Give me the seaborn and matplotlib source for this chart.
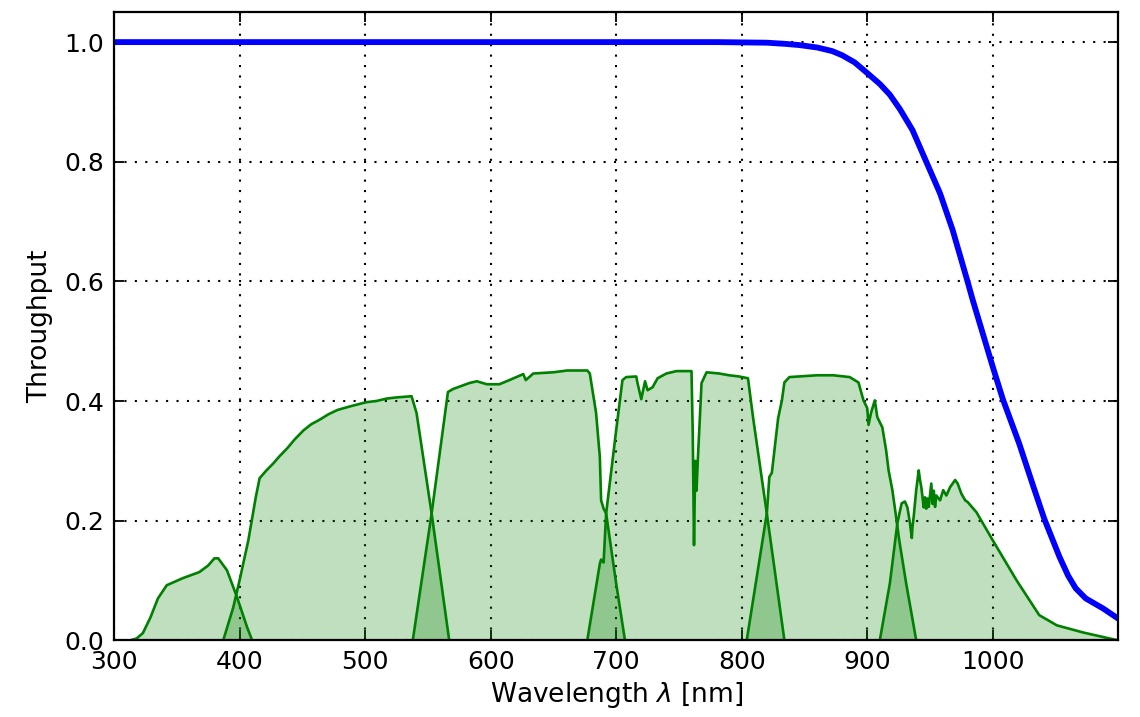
import matplotlib
matplotlib.use("Agg")
import matplotlib.pyplot as plt
import seaborn as sns

# Instrument throughput (blue) versus wavelength
inst_wl = [300, 400, 500, 600, 700, 780, 800, 820, 835, 846, 860, 872, 880,
           890, 899, 910, 918, 926, 936, 947, 958, 968, 980, 984, 992, 1000,
           1008, 1021, 1032, 1041, 1053, 1060, 1066, 1074, 1088, 1100]
inst_tp = [1.0, 1.0, 1.0, 1.0, 1.0, 1.0, 0.9995, 0.999, 0.997, 0.995, 0.991,
           0.985, 0.978, 0.966, 0.950, 0.930, 0.912, 0.888, 0.853, 0.80,
           0.747, 0.686, 0.599, 0.569, 0.513, 0.457, 0.403, 0.329, 0.259,
           0.203, 0.140, 0.108, 0.087, 0.070, 0.053, 0.036]

# Filter band throughputs (green)
u_wl = [313, 318, 323, 329, 335, 342, 355, 368, 375, 380, 383, 390, 398, 406,
        410]
u_tp = [0.0, 0.003, 0.012, 0.038, 0.07, 0.092, 0.104, 0.114, 0.125, 0.137,
        0.137, 0.117, 0.072, 0.022, 0.0]

g_wl = [387, 395, 400, 407, 413, 416, 421, 427, 432, 438, 444, 451, 457, 464,
        471, 478, 488, 501, 509, 517, 525, 537, 541, 553, 567]
g_tp = [0.0, 0.055, 0.10, 0.167, 0.24, 0.271, 0.283, 0.296, 0.308, 0.321,
        0.336, 0.351, 0.361, 0.369, 0.378, 0.385, 0.391, 0.398, 0.40, 0.404,
        0.406, 0.408, 0.38, 0.212, 0.0]

r_wl = [538, 553, 566, 570, 583, 589, 597, 607, 615, 626, 628, 634, 650, 661,
        677, 679, 684, 687, 688, 690, 692, 700, 707]
r_tp = [0.0, 0.212, 0.415, 0.42, 0.43, 0.433, 0.428, 0.428, 0.435, 0.445,
        0.435, 0.446, 0.448, 0.451, 0.451, 0.446, 0.38, 0.306, 0.234, 0.22,
        0.212, 0.095, 0.0]

i_wl = [677, 687, 688, 690, 692, 700, 705, 708, 716, 717, 720, 723, 725, 729,
        733, 740, 748, 760, 761, 762, 763, 764, 765, 768, 772, 782, 790, 798,
        805, 809, 820, 834]
i_tp = [0.0, 0.128, 0.135, 0.13, 0.212, 0.351, 0.435, 0.44, 0.441, 0.43,
        0.403, 0.433, 0.418, 0.423, 0.438, 0.446, 0.45, 0.45, 0.346, 0.159,
        0.30, 0.25, 0.30, 0.43, 0.448, 0.446, 0.443, 0.441, 0.438, 0.373,
        0.212, 0.0]

z_wl = [804, 820, 822, 824, 829, 832, 834, 838, 860, 873, 886, 893, 897, 900,
        901, 903, 906, 908, 912, 915, 917, 920, 923, 925.5, 931, 939]
z_tp = [0.0, 0.212, 0.273, 0.28, 0.371, 0.401, 0.431, 0.44, 0.443, 0.443,
        0.44, 0.431, 0.401, 0.388, 0.36, 0.38, 0.401, 0.373, 0.356, 0.318,
        0.284, 0.251, 0.206, 0.167, 0.095, 0.0]

y_wl = [910, 918, 924, 927.4, 930, 932, 934, 935.5, 936, 937, 939, 941, 942,
        943, 945, 946, 947, 948, 949, 951, 952, 953, 954, 955, 958, 960.5, 963,
        966, 970, 972, 975, 978, 980, 987, 1000, 1019, 1037, 1051, 1072, 1093,
        1100]
y_tp = [0.0, 0.095, 0.196, 0.229, 0.232, 0.222, 0.196, 0.171, 0.189, 0.207,
        0.251, 0.284, 0.268, 0.257, 0.222, 0.239, 0.22, 0.237, 0.223, 0.262,
        0.228, 0.25, 0.223, 0.242, 0.234, 0.251, 0.242, 0.256, 0.268, 0.262,
        0.245, 0.234, 0.231, 0.214, 0.167, 0.10, 0.042, 0.025, 0.013, 0.003,
        0.0]

bands = [(u_wl, u_tp), (g_wl, g_tp), (r_wl, r_tp), (i_wl, i_tp),
         (z_wl, z_tp), (y_wl, y_tp)]

x_ticks = [300, 400, 500, 600, 700, 800, 900, 1000]
y_ticks = [0.0, 0.2, 0.4, 0.6, 0.8, 1.0]

sns.set_style("ticks", {
    "xtick.direction": "in",
    "ytick.direction": "in",
    "axes.edgecolor": "black",
    "axes.grid": True,
    "grid.color": "black",
    "grid.linestyle": ":",
    "text.color": "black",
    "axes.labelcolor": "black",
    "xtick.color": "black",
    "ytick.color": "black",
})
plt.rcParams.update({
    "font.family": ["DejaVu Sans"],
    "xtick.top": True,
    "ytick.right": True,
    "xtick.major.size": 7,
    "ytick.major.size": 7,
    "xtick.major.width": 1.3,
    "ytick.major.width": 1.3,
    "xtick.major.pad": 7,
    "ytick.major.pad": 7,
    "axes.linewidth": 1.6,
})

fig = plt.figure(figsize=(11.4, 7.17), dpi=100)
ax = fig.add_axes([0.1, 0.107, 0.881, 0.876])

for wl, tp in bands:
    ax.fill_between(wl, tp, 0, color="green", alpha=0.25, linewidth=0)
    sns.lineplot(x=wl, y=tp, ax=ax, color="green", linewidth=1.9,
                 estimator=None, sort=False)

sns.lineplot(x=inst_wl, y=inst_tp, ax=ax, color="blue", linewidth=4.2,
             estimator=None, sort=False)

ax.set_xlim(300, 1100)
ax.set_ylim(0, 1.05)
ax.set_xticks(x_ticks)
ax.set_yticks(y_ticks)
ax.grid(True, color="black", linestyle=(0, (1, 4)), linewidth=1.5)
ax.set_xlabel(r"Wavelength $\lambda$ [nm]", fontsize=19, labelpad=4)
ax.set_ylabel("Throughput", fontsize=19, labelpad=8)
ax.tick_params(labelsize=18)
for s in ax.spines.values():
    s.set_visible(True)

fig.savefig("out.png", dpi=100)
